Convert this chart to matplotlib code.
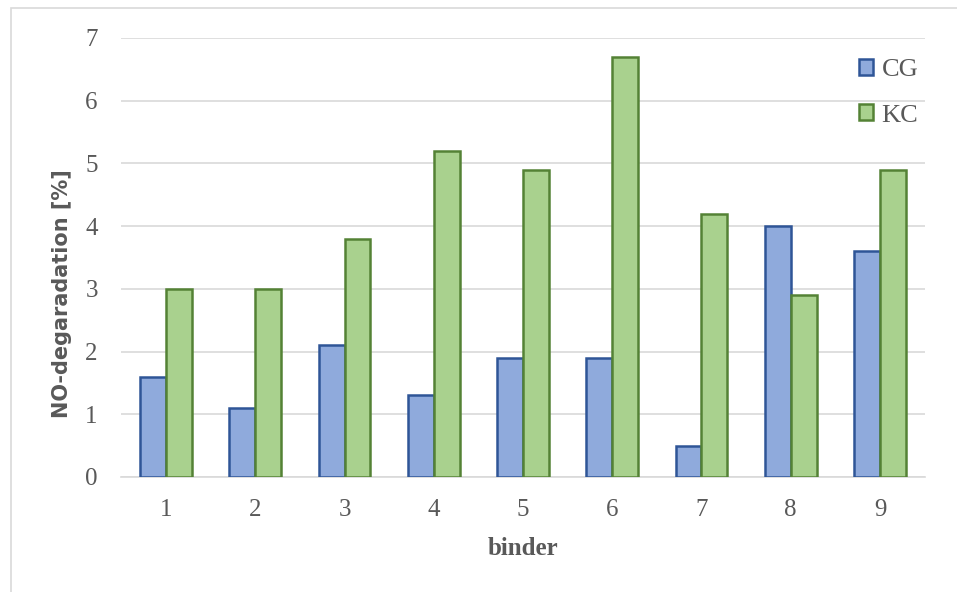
import numpy as np
import matplotlib.pyplot as plt
from matplotlib.patches import Rectangle

binders = ["1", "2", "3", "4", "5", "6", "7", "8", "9"]
cg = [1.6, 1.1, 2.1, 1.3, 1.9, 1.9, 0.5, 4.0, 3.6]
kc = [3.0, 3.0, 3.8, 5.2, 4.9, 6.7, 4.2, 2.9, 4.9]

fig = plt.figure(figsize=(9.57, 5.92), dpi=100)
fig.patches.append(Rectangle((0.011, -0.01), 1.0, 0.997, transform=fig.transFigure,
                             fill=False, edgecolor="#d9d9d9", linewidth=1.2))
ax = fig.add_axes([0.1269, 0.1943, 0.8392, 0.7416])

x = np.arange(len(binders))
w = 0.29
ax.bar(x - w / 2, cg, w, color="#8faadc", edgecolor="#2f5597", linewidth=1.8, label="CG", zorder=3)
ax.bar(x + w / 2, kc, w, color="#a9d18e", edgecolor="#548235", linewidth=1.8, label="KC", zorder=3)

ax.set_xlim(-0.5, len(binders) - 0.5)
ax.set_ylim(0, 7)
ax.set_yticks(range(8))
ax.set_xticks(x)
ax.set_xticklabels(binders)
ax.yaxis.grid(True, color="#d9d9d9", linewidth=1.2, zorder=0)
for s in ["top", "right", "left"]:
    ax.spines[s].set_visible(False)
ax.spines["bottom"].set_color("#d9d9d9")
ax.spines["bottom"].set_linewidth(1.2)
ax.tick_params(length=0, labelsize=18, labelcolor="#595959")
ax.tick_params(axis="y", pad=17)
ax.tick_params(axis="x", pad=16)
for lab in ax.get_xticklabels() + ax.get_yticklabels():
    lab.set_family("Liberation Serif")

ax.set_ylabel("NO-degaradation [%]", fontsize=15, fontweight="bold", color="#595959",
              family="DejaVu Sans")
ax.yaxis.set_label_coords(-0.062, 0.417)
ax.set_xlabel("binder", fontsize=18, fontweight="bold", color="#595959",
              family="Liberation Serif")
ax.xaxis.set_label_coords(0.5, -0.137)

leg = ax.legend(loc="upper right", frameon=False, labelspacing=0.87, handlelength=0.55,
                handleheight=0.55, handletextpad=0.3, borderaxespad=0, borderpad=0,
                bbox_to_anchor=(0.992, 0.952),
                prop={"family": "Liberation Serif", "size": 19})
for t in leg.get_texts():
    t.set_color("#595959")

fig.savefig("out.png", dpi=100)
